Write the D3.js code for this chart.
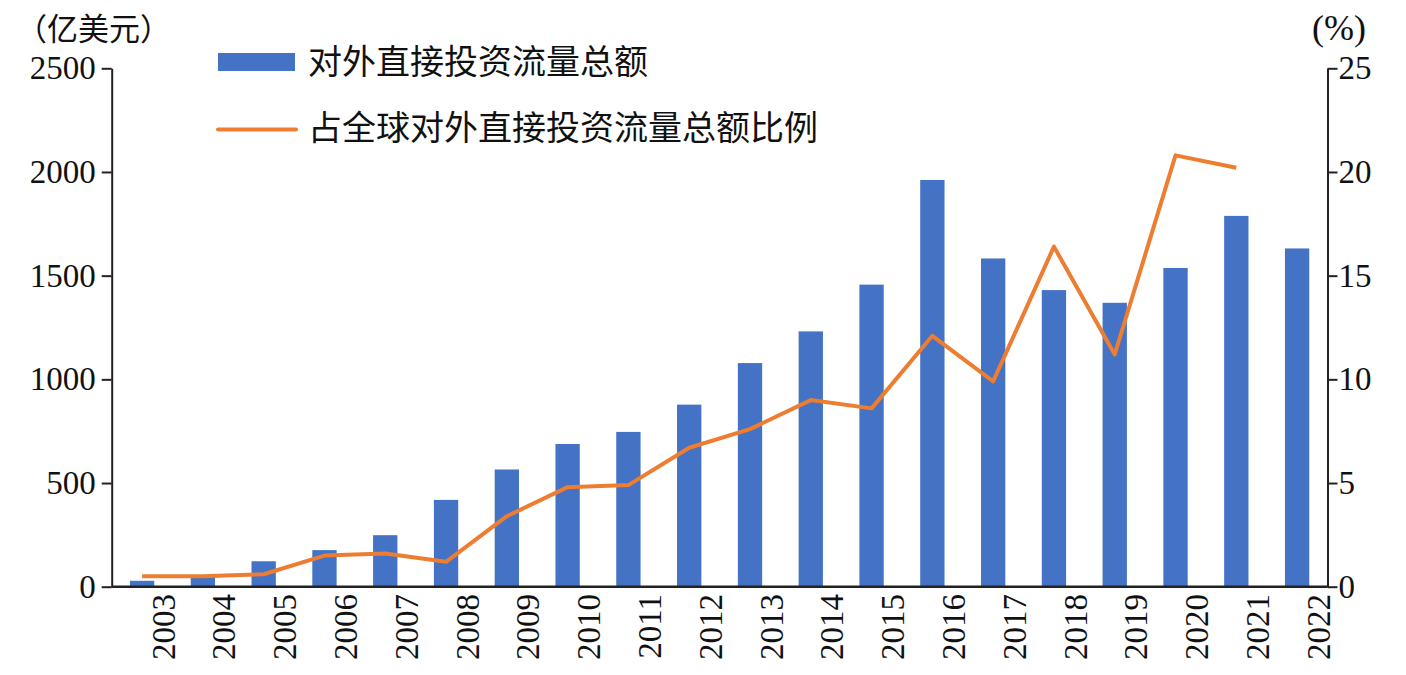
<!DOCTYPE html>
<html lang="zh">
<head>
<meta charset="utf-8">
<title>对外直接投资流量</title>
<style>
  body { margin: 0; background: #fff; }
  svg text { fill: #111; }
  .num { font-family: "Liberation Serif", "DejaVu Serif", serif; }
  .cjk { font-family: "Noto Sans CJK SC", sans-serif; }
</style>
</head>
<body>
<svg id="chart" width="1406" height="675"></svg>
<script src="https://cdn.jsdelivr.net/npm/d3@7"></script>
<script>
// data
const years = ["2003","2004","2005","2006","2007","2008","2009","2010","2011","2012",
               "2013","2014","2015","2016","2017","2018","2019","2020","2021","2022"];
const flows = [28.5, 55.0, 122.6, 176.3, 248.4, 418.6, 565.3, 688.1, 746.5, 878.0,
               1078.4, 1231.2, 1456.7, 1961.5, 1582.9, 1430.4, 1369.1, 1537.1, 1788.2, 1631.2];
// share of world total (%), no value for 2022
const share = [0.5, 0.5, 0.6, 1.5, 1.6, 1.2, 3.4, 4.8, 4.9, 6.7,
               7.6, 9.0, 8.6, 12.1, 9.9, 16.4, 11.2, 20.8, 20.2, null];
const leftTicks = [0, 500, 1000, 1500, 2000, 2500];
const rightTicks = [0, 5, 10, 15, 20, 25];
const seriesNames = ["对外直接投资流量总额", "占全球对外直接投资流量总额比例"];

const svg = d3.select("#chart");
const plotL = 111.7, plotR = 1327.5, plotT = 68.3, plotB = 586.7;

const x = d3.scaleBand().domain(years).range([plotL, plotR])
  .paddingInner(0.6).paddingOuter(0.3);
const yL = d3.scaleLinear().domain([0, 2500]).range([plotB, plotT]);
const yR = d3.scaleLinear().domain([0, 25]).range([plotB, plotT]);

// bars
svg.append("g").selectAll("rect").data(years).join("rect")
  .attr("x", d => x(d))
  .attr("width", x.bandwidth())
  .attr("y", (d, i) => yL(flows[i]))
  .attr("height", (d, i) => plotB - yL(flows[i]))
  .attr("fill", "#4472C4");

// line
const line = d3.line()
  .defined(d => d.v != null)
  .x(d => x(d.year) + x.bandwidth() / 2)
  .y(d => yR(d.v));
svg.append("path")
  .datum(years.map((y, i) => ({ year: y, v: share[i] })))
  .attr("d", line)
  .attr("fill", "none")
  .attr("stroke", "#ED7D31")
  .attr("stroke-width", 4)
  .attr("stroke-linejoin", "round");

// axes
const axL = svg.append("g").attr("transform", `translate(${plotL},0)`)
  .call(d3.axisLeft(yL).tickValues(leftTicks).tickFormat(d3.format("d"))
    .tickSize(10).tickSizeOuter(0).tickPadding(6));
const axR = svg.append("g").attr("transform", `translate(${plotR},0)`)
  .call(d3.axisRight(yR).tickValues(rightTicks).tickFormat(d3.format("d"))
    .tickSize(10).tickSizeOuter(0).tickPadding(1));
[axL, axR].forEach(ax => {
  ax.selectAll("path, line").attr("stroke", "#222").attr("stroke-width", 2);
  ax.selectAll("text").attr("class", "num").attr("font-size", 33).attr("fill", "#111");
});

// baseline
svg.append("line")
  .attr("x1", plotL).attr("x2", plotR).attr("y1", plotB).attr("y2", plotB)
  .attr("stroke", "#222").attr("stroke-width", 2.5);

// category labels, rotated
svg.append("g").selectAll("text").data(years).join("text")
  .attr("class", "num")
  .attr("font-size", 33)
  .attr("text-anchor", "end")
  .attr("dy", "0.35em")
  .attr("transform", d => `translate(${x(d) + x.bandwidth() / 2 + 21},594) rotate(-90)`)
  .text(d => d);

// units
svg.append("text").attr("class", "cjk").attr("font-size", 31)
  .attr("x", 16).attr("y", 40).text("（亿美元）");
svg.append("text").attr("class", "num").attr("font-size", 36)
  .attr("x", 1312).attr("y", 40).text("(%)");

// legend
const lg = svg.append("g");
lg.append("rect").attr("x", 218).attr("y", 53).attr("width", 77).attr("height", 18)
  .attr("fill", "#4472C4");
lg.append("line").attr("x1", 218).attr("x2", 296).attr("y1", 129.5).attr("y2", 129.5)
  .attr("stroke", "#ED7D31").attr("stroke-width", 4).attr("stroke-linecap", "round");
lg.selectAll("text.lab").data(seriesNames).join("text")
  .attr("class", "cjk lab")
  .attr("font-size", 34)
  .attr("x", 308)
  .attr("y", (d, i) => i === 0 ? 62 : 128)
  .attr("dy", "0.36em")
  .text(d => d);
</script>
</body>
</html>
